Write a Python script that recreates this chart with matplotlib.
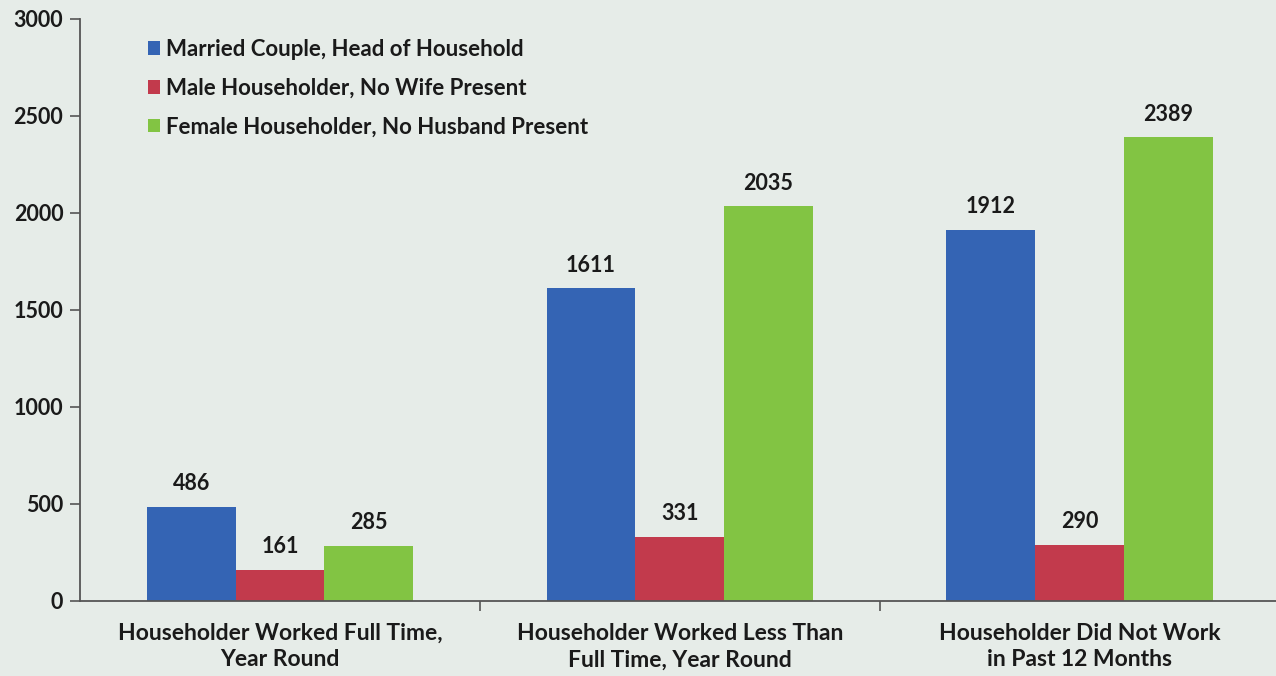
import matplotlib.pyplot as plt
import numpy as np

categories = ["Householder Worked Full Time,\nYear Round",
              "Householder Worked Less Than\nFull Time, Year Round",
              "Householder Did Not Work\nin Past 12 Months"]
series_names = ["Married Couple, Head of Household",
                "Male Householder, No Wife Present",
                "Female Householder, No Husband Present"]
married = [486, 1611, 1912]
male = [161, 331, 290]
female = [285, 2035, 2389]
yticks = [0, 500, 1000, 1500, 2000, 2500, 3000]

colors = ["#3464b4", "#c23a4c", "#82c443"]
bg = "#e6ece8"
axis_color = "#555555"
text_color = "#1a1a1a"

plt.rcParams['font.family'] = ['Lato', 'DejaVu Sans']

fig = plt.figure(figsize=(12.76, 6.76), dpi=100, facecolor=bg)
ax = fig.add_axes([0.0627, 0.111, 0.94, 0.861], facecolor=bg)

x = np.arange(len(categories))
width = 0.222
for i, (vals, name) in enumerate(zip([married, male, female], series_names)):
    bars = ax.bar(x + (i - 1) * width, vals, width, color=colors[i], label=name)
    for b, v in zip(bars, vals):
        ax.text(b.get_x() + b.get_width() / 2, v + 65, str(v),
                ha='center', va='bottom', fontsize=15.5, fontweight='bold',
                color=text_color)

ax.set_xlim(-0.5, 2.5)
ax.set_ylim(0, 3000)
ax.set_yticks(yticks)
ax.set_yticklabels([str(t) for t in yticks], fontsize=15.5, fontweight='bold',
                   color=text_color)
ax.set_xticks(x)
ax.set_xticklabels(categories, fontsize=16.5, fontweight='bold', color=text_color,
                   linespacing=1.3)
ax.tick_params(axis='x', which='major', length=0, pad=16)
ax.set_xticks([0.5, 1.5], minor=True)
ax.tick_params(axis='x', which='minor', length=7, width=1.2, color=axis_color,
               direction='out')
ax.tick_params(axis='y', length=7, width=1.2, color=axis_color, pad=5)

for side in ['top', 'right']:
    ax.spines[side].set_visible(False)
for side in ['left', 'bottom']:
    ax.spines[side].set_color(axis_color)
    ax.spines[side].set_linewidth(1.3)

leg = ax.legend(loc='upper left', bbox_to_anchor=(0.04, 1.0), frameon=False,
                handlelength=0.55, handleheight=0.55, handletextpad=0.25,
                labelspacing=0.8, prop={'size': 16, 'weight': 'bold'})
for t in leg.get_texts():
    t.set_color(text_color)

fig.savefig("out.png", dpi=100, facecolor=bg)
